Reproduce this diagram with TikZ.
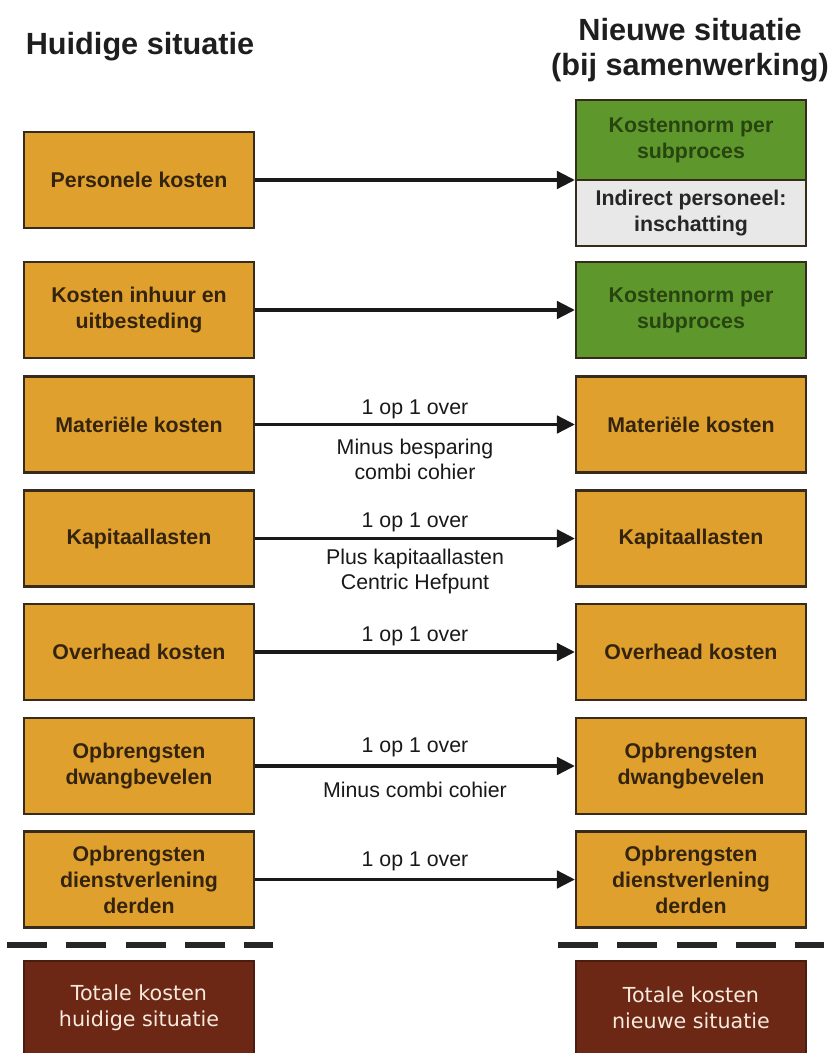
\documentclass[tikz,border=0pt]{standalone}
\usepackage{fontspec}
\setmainfont{Liberation Sans}
\newfontfamily\totalfont{DejaVu Sans}
\usetikzlibrary{arrows.meta}

\definecolor{costfill}{RGB}{224,160,46}
\definecolor{costtext}{RGB}{52,36,14}
\definecolor{boxline}{RGB}{55,44,28}
\definecolor{normfill}{RGB}{94,152,44}
\definecolor{normtext}{RGB}{40,68,16}
\definecolor{estfill}{RGB}{232,232,232}
\definecolor{totalfill}{RGB}{108,40,20}
\definecolor{totaltext}{RGB}{246,234,222}
\definecolor{titletext}{RGB}{30,30,30}

\tikzset{
  costbox/.style={draw=boxline, line width=1.6pt, fill=costfill, text=costtext,
    minimum width=172.5pt, minimum height=72pt, align=center, inner sep=0pt,
    font=\fontsize{16}{19.5}\selectfont\bfseries},
  normbox/.style={costbox, fill=normfill, text=normtext},
  estbox/.style={costbox, fill=estfill, text=black!85},
  totalbox/.style={draw=totalfill!70!black, line width=1pt, fill=totalfill, text=totaltext,
    minimum width=172.5pt, align=center, inner sep=0pt,
    font=\totalfont\fontsize{15.5}{19.5}\selectfont},
  title/.style={align=center, text=titletext, inner sep=0pt,
    font=\fontsize{23}{26}\selectfont\bfseries},
  flow/.style={line width=2.8pt, draw=black!90,
    -{Triangle[length=13.5pt, width=13pt]}},
  lbl/.style={align=center, inner sep=0pt, text=black!90,
    font=\fontsize{16}{18.75}\selectfont},
  divider/.style={line width=3.8pt, draw=black!85, dash pattern=on 30pt off 14.5pt}
}

\begin{document}
\begin{tikzpicture}[x=0.75pt, y=-0.75pt]
  \useasboundingbox (0,0) rectangle (838,1053);

  % column headings
  \node[title] (hcur) at (140,47) {Huidige situatie};
  \node[title] (hnew) at (690,50) {Nieuwe situatie\\(bij samenwerking)};

  % current situation
  \node[costbox] (l1) at (139,180) {Personele kosten};
  \node[costbox] (l2) at (139,310) {Kosten inhuur en\\uitbesteding};
  \node[costbox] (l3) at (139,424.5) {Materiële kosten};
  \node[costbox] (l4) at (139,538.5) {Kapitaallasten};
  \node[costbox] (l5) at (139,652) {Overhead kosten};
  \node[costbox] (l6) at (139,766) {Opbrengsten\\dwangbevelen};
  \node[costbox] (l7) at (139,879.5) {Opbrengsten\\dienstverlening\\derden};

  % new situation
  \node[normbox, minimum height=60pt] (r1a) at (691,140) {Kostennorm per\\subproces};
  \node[estbox, minimum height=49.5pt] (r1b) at (691,213) {Indirect personeel:\\inschatting};
  \node[normbox] (r2) at (691,310) {Kostennorm per\\subproces};
  \node[costbox] (r3) at (691,424.5) {Materiële kosten};
  \node[costbox] (r4) at (691,538.5) {Kapitaallasten};
  \node[costbox] (r5) at (691,652) {Overhead kosten};
  \node[costbox] (r6) at (691,766) {Opbrengsten\\dwangbevelen};
  \node[costbox] (r7) at (691,879.5) {Opbrengsten\\dienstverlening\\derden};

  % transfers
  \draw[flow] (l1.east) -- (l1.east -| r1a.west);
  \draw[flow] (l2.east) -- (r2.west);
  \draw[flow] (l3.east) -- node[lbl, midway, yshift=11.25pt] {1 op 1 over}
    node[lbl, midway, yshift=-25.9pt] {Minus besparing\\combi cohier} (r3.west);
  \draw[flow] (l4.east) -- node[lbl, midway, yshift=12pt] {1 op 1 over}
    node[lbl, midway, yshift=-24.4pt] {Plus kapitaallasten\\Centric Hefpunt} (r4.west);
  \draw[flow] (l5.east) -- node[lbl, midway, yshift=12pt] {1 op 1 over} (r5.west);
  \draw[flow] (l6.east) -- node[lbl, midway, yshift=14pt] {1 op 1 over}
    node[lbl, midway, yshift=-18pt] {Minus combi cohier} (r6.west);
  \draw[flow] (l7.east) -- node[lbl, midway, yshift=13.5pt] {1 op 1 over} (r7.west);

  % dividing lines above the totals
  \coordinate (dl0) at (7,945);
  \coordinate (dl1) at (273,945);
  \coordinate (dr0) at (558,945);
  \coordinate (dr1) at (824,945);
  \draw[divider] (dl0) -- (dl1);
  \draw[divider] (dr0) -- (dr1);

  % totals
  \node[totalbox, minimum height=70.5pt] (tl) at (139,1008) {Totale kosten\\huidige situatie};
  \node[totalbox, minimum height=70.5pt] (tr) at (691,1008) {Totale kosten\\nieuwe situatie};
\end{tikzpicture}
\end{document}
